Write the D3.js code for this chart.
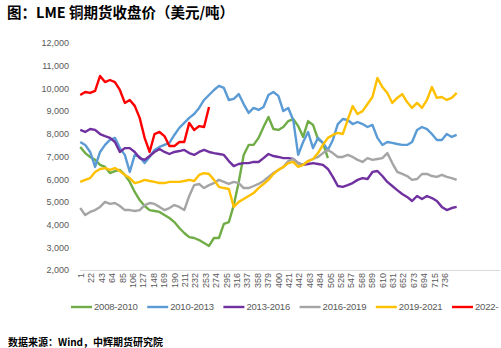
<!DOCTYPE html>
<html>
<head>
<meta charset="utf-8">
<script src="https://cdn.jsdelivr.net/npm/d3@7"></script>
<style>
  html, body { margin: 0; padding: 0; background: #fff; }
  svg { display: block; }
</style>
</head>
<body>
<svg id="chart" width="501" height="348"></svg>
<script>
// closing prices, one reading every 10 trading days (day 1, 11, 21, ...)
var STEP = 10;
var s2008 = [7420,7150,6980,6850,6630,6540,6270,6360,6410,6190,5880,5440,5080,4820,4640,4600,4560,4420,4290,4110,
  3850,3630,3450,3410,3320,3190,3060,3410,3410,4030,4110,4860,5880,7070,7510,7510,7820,8300,8740,8210,
  8170,8300,8560,8650,8340,7860,8560,8390,7770,7600,6930];
var s2010 = [7640,7510,7200,6540,7200,7510,7730,7820,7370,7070,6320,7070,6980,6710,6980,7290,7420,7510,7600,7950,
  8260,8480,8700,8870,9140,9490,9710,9930,10110,10020,9490,9540,9750,9310,8920,9140,9050,9180,9710,9840,
  9670,9000,9140,8610,7070,7640,8080,7370,7820,7600,7290,7730,8430,8650,8610,8430,8520,8430,8300,8390,
  7820,7510,7640,7600,7550,7510,7510,7640,8170,8300,8210,7990,7730,7730,7990,7860,7950];
var s2013 = [8170,8080,8210,8170,7990,7900,7820,7640,7200,7370,7370,7200,6930,6850,7020,7200,7330,7200,7110,7200,
  7240,7290,7150,7070,7200,7290,7200,7150,7110,7070,6800,6580,6670,6710,6710,6760,6760,6930,7110,7020,
  6980,6930,6930,6890,6710,6630,6670,6710,6670,6630,6450,6100,5700,5660,5740,5830,5970,6050,6010,6320,
  6360,6140,5880,5700,5520,5350,5220,5040,5260,5130,5260,5170,5040,4780,4640,4730,4780];
var s2016 = [4730,4420,4560,4640,4780,5000,4910,4950,4820,4640,4640,4600,4640,4860,4950,4910,4780,4640,4730,4860,
  4780,4640,5260,5740,5790,5610,5740,5830,5970,5880,5790,5880,5830,5610,5610,5700,5790,5920,6100,6270,
  6410,6540,6800,6890,6710,6630,6800,6890,6980,7150,7290,7150,6980,6980,7070,6980,6850,6760,6930,6850,
  6890,6930,7150,6710,6320,6230,6140,5970,6010,6230,6230,6140,6100,6190,6100,6050,5970];
var s2019 = [5880,5970,6050,6320,6450,6490,6410,6490,6360,6190,6050,5830,5880,5970,5920,5880,5830,5830,5880,5880,
  5880,5920,5970,5920,6190,6270,6230,5970,5660,5610,5570,4780,5000,5130,5260,5390,5610,5790,5970,6230,
  6410,6540,6710,6760,6540,6630,6800,6890,7150,7510,7820,7950,8040,7990,8610,9220,8870,9000,9310,9620,
  10460,10060,9800,9360,9580,9750,9400,9140,9360,9140,9490,10060,9580,9620,9490,9580,9800];
var s2022 = [9710,9840,9800,9890,10550,10280,10370,10280,9930,9360,9490,9230,8700,7820,7200,7990,8080,7900,7460,7460,
  7640,7640,8480,8170,8340,8300,9180];

var seriesNames = ["2008-2010", "2010-2013", "2013-2016", "2016-2019", "2019-2021", "2022-"];
var seriesValues = [s2008, s2010, s2013, s2016, s2019, s2022];
var seriesColors = ["#70ad47", "#5b9bd5", "#7030a0", "#a5a5a5", "#ffc000", "#ff0000"];

var yTicks = [2000, 3000, 4000, 5000, 6000, 7000, 8000, 9000, 10000, 11000, 12000];
var xTickDays = d3.range(1, 737, 21);   // 1, 22, 43, ... 736

var svg = d3.select("#chart");
var labelFont = "'Liberation Sans', Arial, sans-serif";
var cjkFont = "'Noto Sans CJK SC', 'Noto Sans', sans-serif";

var xScale = d3.scaleLinear().domain([0.5, 848.5]).range([80, 500]);
var yScale = d3.scaleLinear().domain([2000, 12000]).range([270, 43]);

// title
svg.append("text")
  .attr("x", 7).attr("y", 18)
  .attr("font-family", cjkFont).attr("font-weight", "bold")
  .attr("font-size", 14.5).attr("fill", "#000")
  .text("图：LME 铜期货收盘价（美元/吨）");

// y axis labels only, no line
var yAxis = d3.axisLeft(yScale).tickValues(yTicks).tickSize(0).tickPadding(0)
  .tickFormat(d3.format(","));
var gy = svg.append("g").attr("transform", "translate(69,0)").call(yAxis);
gy.select(".domain").remove();
gy.selectAll("text")
  .attr("font-family", labelFont).attr("font-size", 9).attr("fill", "#595959");

// x axis: horizontal line + rotated day labels
var xAxis = d3.axisBottom(xScale).tickValues(xTickDays).tickSize(0).tickPadding(0)
  .tickFormat(d3.format("d"));
var gx = svg.append("g").attr("transform", "translate(0,270)").call(xAxis);
gx.select(".domain").attr("stroke", "#d9d9d9").attr("d", "M80,0.5H500");
gx.selectAll("text")
  .attr("font-family", labelFont).attr("font-size", 9).attr("fill", "#595959")
  .attr("transform", "rotate(-90)")
  .attr("text-anchor", "end")
  .attr("x", -3).attr("y", 0).attr("dy", "0.35em");

var line = d3.line()
  .x(function(d, i) { return xScale(1 + i * STEP); })
  .y(function(d) { return yScale(d); });

var plot = svg.append("g");
seriesValues.forEach(function(vals, i) {
  plot.append("path")
    .datum(vals)
    .attr("fill", "none")
    .attr("stroke", seriesColors[i])
    .attr("stroke-width", 2.4)
    .attr("stroke-linejoin", "round")
    .attr("d", line);
});

// legend
var legend = svg.append("g").attr("transform", "translate(71,307)");
seriesNames.forEach(function(name, i) {
  var g = legend.append("g").attr("transform", "translate(" + (i * 76.2) + ",0)");
  g.append("line").attr("x1", 0).attr("x2", 21).attr("y1", 0).attr("y2", 0)
    .attr("stroke", seriesColors[i]).attr("stroke-width", 2.4);
  g.append("text").attr("x", 23).attr("y", 0).attr("dy", "0.35em")
    .attr("font-family", labelFont).attr("font-size", 9.5).attr("fill", "#595959")
    .attr("letter-spacing", -0.2)
    .text(name);
});

// source note
svg.append("text")
  .attr("x", 8).attr("y", 346)
  .attr("font-family", cjkFont).attr("font-weight", "bold")
  .attr("font-size", 10).attr("fill", "#000")
  .text("数据来源：Wind，中辉期货研究院");
</script>
</body>
</html>
